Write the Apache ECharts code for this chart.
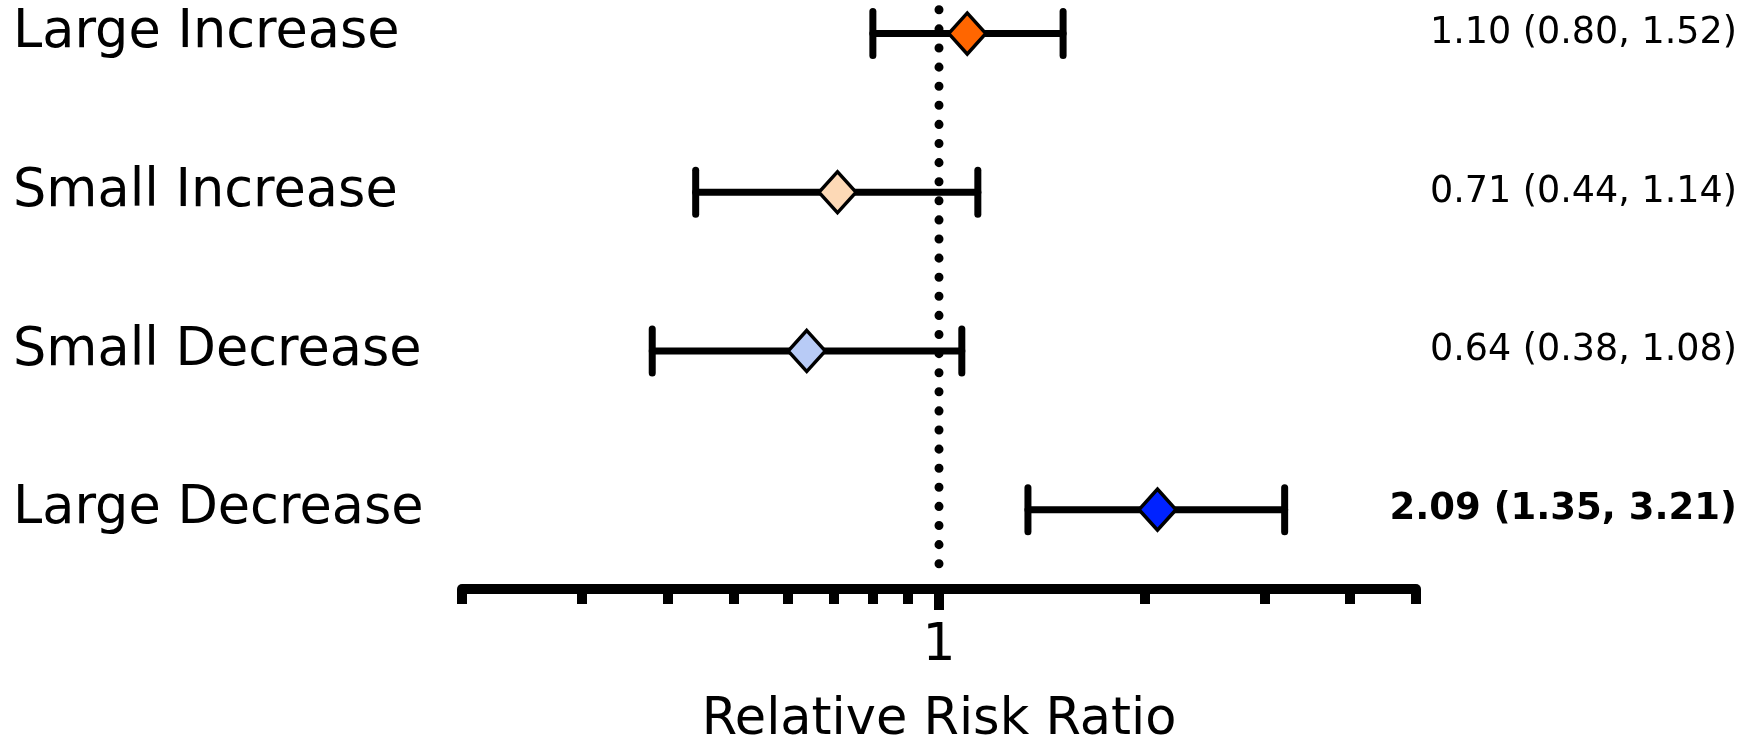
<!DOCTYPE html>
<html>
<head>
<meta charset="utf-8">
<script src="https://cdn.jsdelivr.net/npm/echarts@6/dist/echarts.min.js"></script>
<style>
  html, body { margin: 0; padding: 0; background: #fff; }
  #chart { width: 1756px; height: 747px; }
</style>
</head>
<body>
<div id="chart"></div>
<script>
// 数据
const categories = ['Large Increase', 'Small Increase', 'Small Decrease', 'Large Decrease']
const riskRatio = [1.10, 0.71, 0.64, 2.09]
const ciLow = [0.80, 0.44, 0.38, 1.35]
const ciHigh = [1.52, 1.14, 1.08, 3.21]
const pointColors = ['#ff6600', '#fdd9b6', '#b8cbf6', '#0022ff']
const boldRows = [false, false, false, true]
const minorTicks = [0.2, 0.3, 0.4, 0.5, 0.6, 0.7, 0.8, 0.9, 2, 3, 4, 5]
const majorTicks = [1]
const rowIndex = [0, 1, 2, 3]

const fmt = v => v.toFixed(2)
const rightText = categories.map((c, i) => {
  const s = fmt(riskRatio[i]) + ' (' + fmt(ciLow[i]) + ', ' + fmt(ciHigh[i]) + ')'
  return boldRows[i] ? '{b|' + s + '}' : s
})

const myChart = echarts.init(document.getElementById('chart'))
const font = 'DejaVu Sans'

const option = {
  animation: false,
  textStyle: { fontFamily: font },
  grid: { left: 462, right: 340, top: 5, bottom: 158, outerBoundsMode: 'none', containLabel: false },
  xAxis: [
    {
      type: 'log',
      logBase: 10,
      min: 0.2,
      max: 5,
      position: 'bottom',
      name: 'Relative Risk Ratio',
      nameLocation: 'middle',
      nameGap: 106,
      nameTextStyle: { fontSize: 51, color: '#000', fontFamily: font },
      axisLine: { show: true, onZero: false, lineStyle: { color: '#000', width: 10 } },
      axisTick: { show: true, customValues: minorTicks, length: 15, lineStyle: { color: '#000', width: 10 } },
      axisLabel: { show: false },
      splitLine: { show: false }
    },
    {
      type: 'log',
      logBase: 10,
      min: 0.2,
      max: 5,
      position: 'bottom',
      axisLine: { show: false, onZero: false },
      axisTick: { show: true, customValues: majorTicks, length: 21, lineStyle: { color: '#000', width: 10 } },
      axisLabel: { show: true, customValues: majorTicks, margin: 31, fontSize: 52, color: '#000', fontFamily: font },
      splitLine: { show: false }
    }
  ],
  yAxis: [
    {
      type: 'value',
      inverse: true,
      min: -0.18,
      max: 3.5,
      axisLine: { show: false },
      axisTick: { show: false },
      splitLine: { show: false },
      axisLabel: {
        customValues: rowIndex,
        formatter: v => categories[v],
        align: 'left',
        margin: 449,
        fontSize: 52.5,
        color: '#000',
        fontFamily: font
      }
    },
    {
      type: 'value',
      inverse: true,
      position: 'right',
      min: -0.18,
      max: 3.5,
      axisLine: { show: false },
      axisTick: { show: false },
      splitLine: { show: false },
      axisLabel: {
        customValues: rowIndex,
        formatter: v => rightText[v],
        align: 'right',
        margin: 321,
        fontSize: 36.5,
        color: '#000',
        fontFamily: font,
        rich: { b: { fontSize: 37, fontWeight: 'bold', color: '#000', fontFamily: font } }
      }
    }
  ],
  series: [
    {
      // 参考线 x = 1
      type: 'line',
      xAxisIndex: 0,
      yAxisIndex: 0,
      data: [[1, -0.15], [1, 3.43]],
      showSymbol: false,
      silent: true,
      z: 1,
      lineStyle: { color: '#000', width: 9, type: [0.1, 19], cap: 'round' }
    },
    {
      type: 'custom',
      xAxisIndex: 0,
      yAxisIndex: 0,
      z: 2,
      data: rowIndex.map(i => [ciLow[i], ciHigh[i], i]),
      renderItem: (params, api) => {
        const p0 = api.coord([api.value(0), api.value(2)])
        const p1 = api.coord([api.value(1), api.value(2)])
        const h = 22
        const style = { stroke: '#000', lineWidth: 7, lineCap: 'round' }
        return {
          type: 'group',
          children: [
            { type: 'line', shape: { x1: p0[0], y1: p0[1], x2: p1[0], y2: p1[1] }, style: style },
            { type: 'line', shape: { x1: p0[0], y1: p0[1] - h, x2: p0[0], y2: p0[1] + h }, style: style },
            { type: 'line', shape: { x1: p1[0], y1: p1[1] - h, x2: p1[0], y2: p1[1] + h }, style: style }
          ]
        }
      }
    },
    {
      type: 'scatter',
      xAxisIndex: 0,
      yAxisIndex: 0,
      z: 3,
      symbol: 'diamond',
      symbolSize: [37, 41],
      data: rowIndex.map(i => ({
        value: [riskRatio[i], i],
        itemStyle: { color: pointColors[i], borderColor: '#000', borderWidth: 3.5, opacity: 1 }
      }))
    }
  ]
}
myChart.setOption(option)
</script>
</body>
</html>
